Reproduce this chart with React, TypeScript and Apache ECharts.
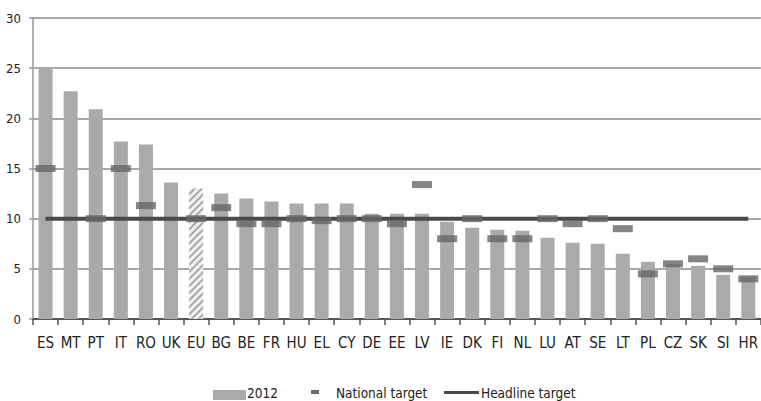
import React, { useEffect, useRef } from "react";
import * as echarts from "echarts";

const categories = ["ES","MT","PT","IT","RO","UK","EU","BG","BE","FR","HU","EL","CY","DE","EE","LV","IE","DK","FI","NL","LU","AT","SE","LT","PL","CZ","SK","SI","HR"];
const values2012 = [25.0,22.7,20.9,17.7,17.4,13.6,13.0,12.5,12.0,11.7,11.5,11.5,11.5,10.5,10.5,10.5,9.7,9.1,8.9,8.8,8.1,7.6,7.5,6.5,5.7,5.5,5.3,4.4,4.2];
const nationalTarget: (number | null)[] = [15,null,10,15,11.3,null,10,11.1,9.5,9.5,10,9.8,10,10,9.5,13.4,8,10,8,8,10,9.5,10,9,4.5,5.5,6,5,4];
const headlineTarget = categories.map(() => 10);
const yTicks = { min: 0, max: 30, interval: 5 };
const legendLabels = ["2012", "National target", "Headline target"];

const FONT = "'DejaVu Sans Condensed', 'DejaVu Sans', sans-serif";

export default function App() {
  const ref = useRef<HTMLDivElement>(null);
  useEffect(() => {
    if (!ref.current) return;
    const chart = echarts.init(ref.current, null, { renderer: "svg" });
    const barData = values2012.map((v, i) =>
      categories[i] === "EU"
        ? {
            value: v,
            itemStyle: {
              color: "#f2f2f2",
              decal: {
                symbol: "rect",
                color: "#a8a8a8",
                dashArrayX: [1, 0],
                dashArrayY: [2, 3],
                rotation: -Math.PI / 4,
              },
            },
          }
        : v
    );
    const legendText = (x: number, text: string) => ({
      type: "text",
      x,
      y: 393,
      scaleY: 1.1,
      style: { text, fill: "#222", font: `13.5px ${FONT}`, lineHeight: 14, verticalAlign: "middle" },
    });
    chart.setOption({
      animation: false,
      grid: { left: 33, top: 18, right: -3, bottom: 82 },
      xAxis: {
        type: "category",
        data: categories,
        boundaryGap: true,
        axisLine: { lineStyle: { color: "#555", width: 2 } },
        axisTick: { show: true, length: 6, lineStyle: { color: "#555", width: 1.5 } },
        axisLabel: { color: "#222", fontSize: 15, fontFamily: FONT, margin: 16, interval: 0 },
      },
      yAxis: {
        type: "value",
        min: yTicks.min,
        max: yTicks.max,
        interval: yTicks.interval,
        axisLine: { show: true, lineStyle: { color: "#999", width: 1.5 } },
        axisTick: { show: true, length: 4, lineStyle: { color: "#999", width: 1.5 } },
        axisLabel: { color: "#222", fontSize: 13, fontFamily: FONT, margin: 12 },
        splitLine: { lineStyle: { color: "#a8a8a8", width: 2 } },
      },
      series: [
        {
          name: legendLabels[0],
          type: "bar",
          data: barData,
          barWidth: 14,
          itemStyle: { color: "#aaaaaa" },
          z: 2,
        },
        {
          name: legendLabels[2],
          type: "line",
          data: headlineTarget,
          symbol: "none",
          lineStyle: { color: "#4a4a4a", width: 4 },
          z: 3,
        },
        {
          name: legendLabels[1],
          type: "scatter",
          data: nationalTarget,
          symbol: "rect",
          symbolSize: [20, 7],
          itemStyle: { color: "#676767" },
          z: 4,
        },
      ],
      graphic: [
        { type: "rect", left: 213, top: 390, shape: { width: 33, height: 10 }, style: { fill: "#aaaaaa" } },
        legendText(247, legendLabels[0]),
        { type: "rect", left: 311, top: 390, shape: { width: 8, height: 4 }, style: { fill: "#676767" } },
        legendText(336, legendLabels[1]),
        { type: "rect", left: 444, top: 391, shape: { width: 35, height: 3 }, style: { fill: "#4a4a4a" } },
        legendText(481, legendLabels[2]),
      ],
    });
    return () => chart.dispose();
  }, []);
  return (
    <div
      ref={ref}
      style={{ position: "fixed", left: 0, top: 0, width: 761, height: 401, background: "#fff" }}
    />
  );
}
